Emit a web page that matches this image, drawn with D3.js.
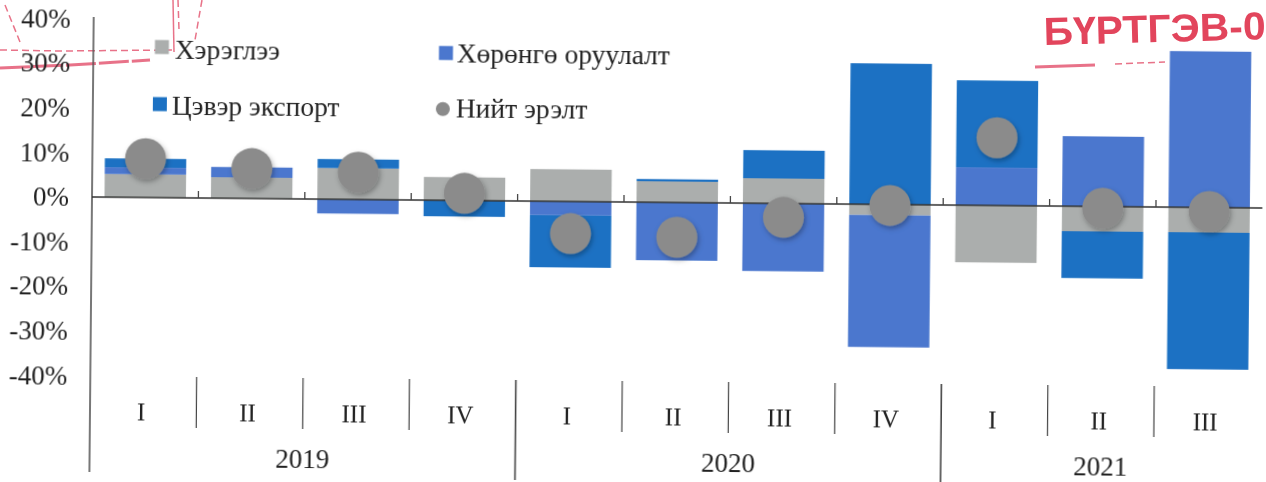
<!DOCTYPE html>
<html><head><meta charset="utf-8">
<script src="https://cdn.jsdelivr.net/npm/d3@7"></script>
<style>html,body{margin:0;padding:0;background:#fff}svg{display:block}text{font-family:"Liberation Serif",serif;fill:#222}</style>
</head><body><svg id="c" width="1266" height="482"></svg>
<script>
const quarters=["I","II","III","IV","I","II","III","IV","I","II","III"];
const years=["2019","2020","2021"];
const yearCounts=[4,4,3];
const consumption=[5.2,4.7,7.0,5.2,7.2,4.7,5.6,-2.4,-12.8,-5.6,-5.6];
const investment=[1.5,2.3,-3.2,0,-3.1,-13.0,-15.2,-29.6,8.5,15.7,35.0];
const netExport=[2.0,0,2.0,-3.6,-11.7,0.5,6.3,31.6,19.5,-10.5,-30.7];
const demand=[8.7,6.7,6.1,1.6,-7.2,-7.8,-3.1,-0.2,15.2,-0.4,-0.9];
const yTicks=[40,30,20,10,0,-10,-20,-30,-40];
const legendNames=["Хэрэглээ","Хөрөнгө оруулалт","Цэвэр экспорт","Нийт эрэлт"];
const colors=["#ABAEAD","#4B77CE","#1C71C3","#8B8B8B"];

const svg=d3.select("#c");
const defs=svg.append("defs");
const f=defs.append("filter").attr("id","sh").attr("x","-30%").attr("y","-30%").attr("width","170%").attr("height","170%");
f.append("feDropShadow").attr("dx",1.5).attr("dy",2.5).attr("stdDeviation",2.5).attr("flood-color","#000").attr("flood-opacity",0.3);
const b=defs.append("filter").attr("id","blur");b.append("feGaussianBlur").attr("stdDeviation",0.45);
const sb=defs.append("filter").attr("id","sb");sb.append("feGaussianBlur").attr("stdDeviation",0.7);

// red stamp remnants
const stamp=svg.append("g").attr("filter","url(#sb)");
stamp.append("text").attr("transform","rotate(-1.5 1044 45)").attr("x",1044).attr("y",45).attr("font-size",39).attr("font-weight",700)
  .style("font-family","'Liberation Sans',sans-serif").style("fill","#E2445C")
  .attr("textLength",222).attr("lengthAdjust","spacingAndGlyphs").text("БҮРТГЭВ-0");
const red=d3.line();
[[[0,68],[70,65],[150,60]],[[0,50],[60,51],[175,50]],[[1035,67],[1095,65]],[[1115,64],[1165,62]],
 [[173,0],[174,52]],[[178,0],[179,30]],[[202,0],[195,40]],[[5,5],[20,42]]].forEach((p,i)=>{
  stamp.append("path").attr("d",red(p)).attr("fill","none").attr("stroke","#E2506A")
   .attr("stroke-width",i==0||i==2?3:1.5).attr("stroke-dasharray",i==0?"30 3":i==1||i==3||i>=5?"7 4":null).attr("opacity",.8);
});

const root=svg.append("g").attr("transform","rotate(0.54 93 197)").attr("filter","url(#blur)");
const y=d3.scaleLinear().domain([-40,40]).range([375.4,18.6]);
const x=d3.scaleBand().domain(d3.range(quarters.length)).range([92,92+106.4*quarters.length]).paddingInner(0.235).paddingOuter(0.1175);

const rows=quarters.map((q,i)=>({i,c:consumption[i],v:investment[i],e:netExport[i]}));
const stacked=d3.stack().keys(["c","v","e"]).offset(d3.stackOffsetDiverging)(rows);
root.selectAll("g.s").data(stacked).join("g").attr("class","s").attr("fill",(d,i)=>colors[i])
 .selectAll("rect").data(d=>d).join("rect")
 .attr("x",d=>x(d.data.i)).attr("width",x.bandwidth())
 .attr("y",d=>y(Math.max(d[0],d[1]))).attr("height",d=>Math.abs(y(d[0])-y(d[1])));

// y axis
const ya=d3.axisLeft(y).tickValues(yTicks).tickSize(0).tickPadding(23).tickFormat(d=>d+"%");
const yg=root.append("g").attr("transform","translate(92,0)").call(ya);
yg.select(".domain").remove();
yg.selectAll("text").attr("font-size",27).attr("dy","0.32em").style("fill","#222");
root.append("line").attr("x1",92).attr("x2",92).attr("y1",17).attr("y2",472).attr("stroke","#555").attr("stroke-width",1.6);

// zero line with ticks
const step=x.step();
const zero=root.append("g");
zero.append("line").attr("x1",92).attr("x2",92+step*quarters.length).attr("y1",y(0)).attr("y2",y(0)).attr("stroke","#333").attr("stroke-width",1.6);
zero.selectAll("line.t").data(d3.range(1,quarters.length)).join("line").attr("class","t")
 .attr("x1",i=>92+step*i).attr("x2",i=>92+step*i).attr("y1",y(0)).attr("y2",y(0)-7).attr("stroke","#444").attr("stroke-width",1.3);

// multi-level category axis
const cat=root.append("g");
cat.selectAll("text.q").data(quarters).join("text").attr("class","q")
 .attr("x",(d,i)=>x(i)+x.bandwidth()/2-2).attr("y",420).attr("text-anchor","middle").attr("font-size",25).text(d=>d);
let cum=0;
const yrs=years.map((yr,k)=>{const s=cum;cum+=yearCounts[k];return {yr,s,e:cum};});
cat.selectAll("text.y").data(yrs).join("text").attr("class","y")
 .attr("x",d=>92+step*(d.s+d.e)/2).attr("y",466).attr("text-anchor","middle").attr("font-size",27).text(d=>d.yr);
const majors=new Set(yrs.map(d=>d.e));
cat.selectAll("line.sep").data(d3.range(1,quarters.length)).join("line").attr("class","sep")
 .attr("x1",i=>92+step*i).attr("x2",i=>92+step*i).attr("y1",376)
 .attr("y2",i=>majors.has(i)?476:427).attr("stroke","#444").attr("stroke-width",i=>majors.has(i)?1.6:1.2);

// line series markers
root.selectAll("circle.d").data(demand).join("circle").attr("class","d")
 .attr("cx",(d,i)=>x(i)+x.bandwidth()/2).attr("cy",d=>y(d)).attr("r",20.5)
 .attr("fill",colors[3]).attr("filter","url(#sh)");

// legend
const lg=root.append("g");
const lp=[[153.5,39.4,173.5,58,"s"],[437.6,42.7,455.5,58.5,"s"],[152,96.5,171,114,"s"],[442,105.7,455,113.5,"c"]];
legendNames.forEach((n,i)=>{
  const p=lp[i];
  if(p[4]=="s") lg.append("rect").attr("x",p[0]).attr("y",p[1]).attr("width",14).attr("height",14).attr("fill",colors[i]);
  else lg.append("circle").attr("cx",p[0]).attr("cy",p[1]).attr("r",7).attr("fill",colors[3]);
  lg.append("text").attr("x",p[2]).attr("y",p[3]).attr("font-size",27.5).text(n);
});
</script></body></html>
